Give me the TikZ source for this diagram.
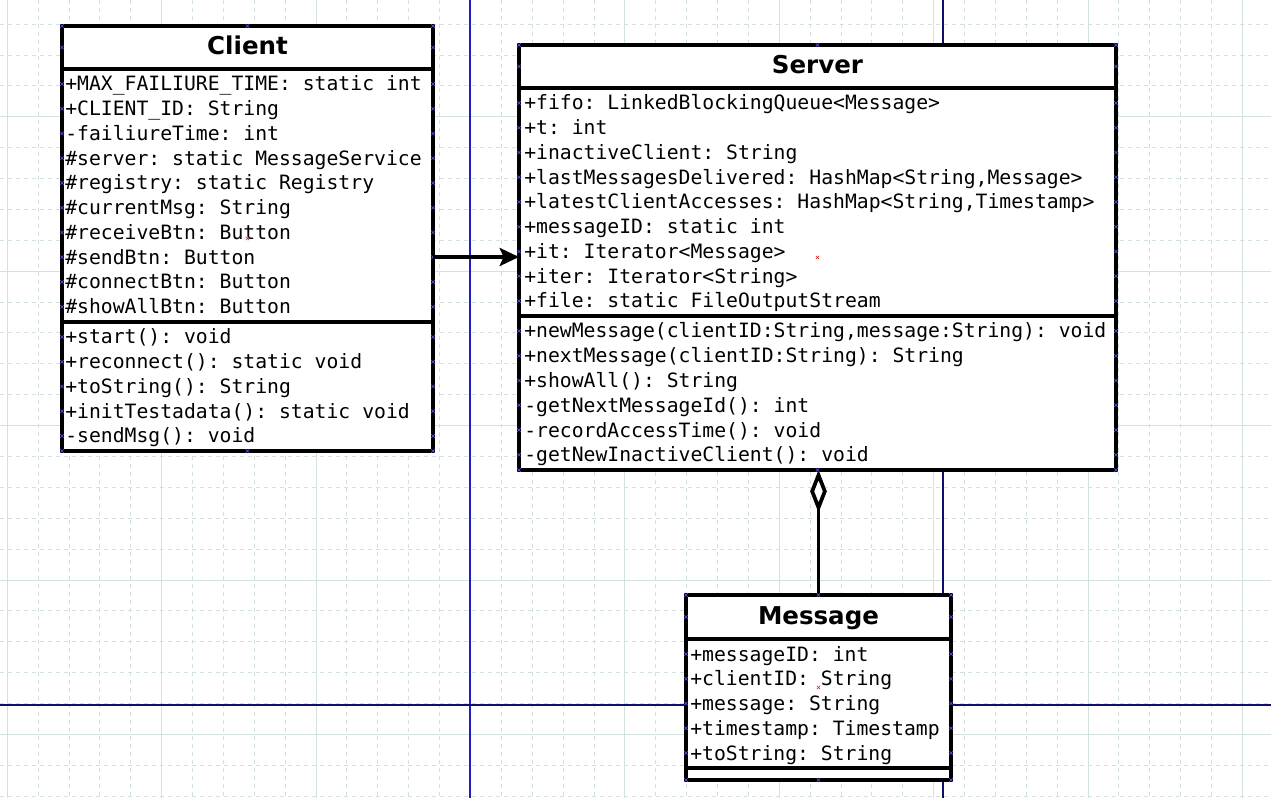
\documentclass[tikz,border=0pt]{standalone}
\usepackage{fontspec}
\setmainfont{DejaVu Sans}
\setsansfont{DejaVu Sans}
\setmonofont{DejaVu Sans Mono}
\usetikzlibrary{arrows.meta}
\definecolor{gridc}{RGB}{210,226,222}
\definecolor{guideA}{RGB}{30,30,200}
\definecolor{guideB}{RGB}{15,15,105}
\definecolor{hdl}{RGB}{90,90,255}
\definecolor{ctr}{RGB}{225,30,30}
\newcommand\hmk[2]{\draw[hmark] ({#1},{#2}) ++(-1.7,-1.7) -- ++(3.4,3.4) ++(-3.4,0) -- ++(3.4,-3.4);}
\newcommand\cmk[2]{\draw[cmark] ({#1},{#2}) ++(-1.7,-1.7) -- ++(3.4,3.4) ++(-3.4,0) -- ++(3.4,-3.4);}
\begin{document}
\begin{tikzpicture}[x=0.75pt,y=-0.75pt,
  boxst/.style={draw,line width=2.6pt,fill=white,inner sep=0pt,outer sep=0pt,anchor=north west},
  attr/.style={font=\fontsize{14.8}{17}\selectfont\ttfamily,inner sep=0pt,anchor=base west},
  ttl/.style={font=\fontsize{18.4}{22}\selectfont\sffamily\bfseries,inner sep=0pt,anchor=base},
  divl/.style={line width=2.6pt},
  conn/.style={line width=2.8pt},
  minorg/.style={gridc,line width=0.75pt,dash pattern=on 3pt off 3pt},
  majorg/.style={gridc,line width=0.75pt},
  hmark/.style={hdl,line width=0.45pt},
  cmark/.style={ctr,line width=0.45pt},
]
\fill[white] (0,0) rectangle (1271,798);
\useasboundingbox (0,0) rectangle (1271,798);
% grid
\foreach \k in {0,...,41} \draw[minorg] ({7.3+30.88*\k},0) -- ++(0,798);
\foreach \k in {0,...,25} \draw[minorg] (0,{24.16+30.88*\k}) -- ++(1271,0);
\foreach \k in {0,...,8} \draw[majorg] ({7.3+154.4*\k},0) -- ++(0,798);
\foreach \k in {0,...,4} \draw[majorg] (0,{116.8+154.4*\k}) -- ++(1271,0);
% guide lines
\draw[guideA,line width=0.9pt] (470,0) -- (470,798);
\draw[guideB,line width=0.9pt] (943,0) -- (943,798);
\draw[guideB,line width=0.9pt] (0,705) -- (1271,705);
% boxes
\node[boxst,minimum width=278.25pt,minimum height=318.75pt] (client) at (62,26) {};
\node[boxst,minimum width=447.75pt,minimum height=318.75pt] (server) at (519,45) {};
\node[boxst,minimum width=198.75pt,minimum height=138.75pt] (message) at (686,595) {};
\draw[divl] (62,69) -- (433,69);
\draw[divl] (62,322) -- (433,322);
\draw[divl] (519,88) -- (1116,88);
\draw[divl] (519,316) -- (1116,316);
\draw[divl] (686,639) -- (951,639);
\draw[divl] (686,768) -- (951,768);
% titles
\node[ttl] (clientT) at (247.5,55) {Client};
\node[ttl] (serverT) at (817.5,74) {Server};
\node[ttl] (messageT) at (818.5,624) {Message};
% client
\foreach \t [count=\i] in {+MAX\_FAILIURE\_TIME: static int,+CLIENT\_ID: String,-failiureTime: int,\#server: static MessageService,\#registry: static Registry,\#currentMsg: String,\#receiveBtn: Button,\#sendBtn: Button,\#connectBtn: Button,\#showAllBtn: Button}{
  \node[attr] (ca\i) at (65,{91+24.75*(\i-1)}) {\t};
  \hmk{62}{84+24.75*(\i-1)}\hmk{433}{84+24.75*(\i-1)}}
\foreach \t [count=\i] in {+start(): void,+reconnect(): static void,+toString(): String,+initTestadata(): static void,-sendMsg(): void}{
  \node[attr] (cm\i) at (65,{344+24.75*(\i-1)}) {\t};
  \hmk{62}{337+24.75*(\i-1)}\hmk{433}{337+24.75*(\i-1)}}
% server
\foreach \t [count=\i] in {+fifo: LinkedBlockingQueue<Message>,+t: int,+inactiveClient: String,{+lastMessagesDelivered: HashMap<String,Message>},{+latestClientAccesses: HashMap<String,Timestamp>},+messageID: static int,+it: Iterator<Message>,+iter: Iterator<String>,+file: static FileOutputStream}{
  \node[attr] (sa\i) at (524,{110+24.75*(\i-1)}) {\t};
  \hmk{519}{103+24.75*(\i-1)}\hmk{1116}{103+24.75*(\i-1)}}
\foreach \t [count=\i] in {{+newMessage(clientID:String,message:String): void},+nextMessage(clientID:String): String,+showAll(): String,-getNextMessageId(): int,-recordAccessTime(): void,-getNewInactiveClient(): void}{
  \node[attr] (sm\i) at (524,{338+24.75*(\i-1)}) {\t};
  \hmk{519}{331+24.75*(\i-1)}\hmk{1116}{331+24.75*(\i-1)}}
% message
\foreach \t [count=\i] in {+messageID: int,+clientID: String,+message: String,+timestamp: Timestamp,+toString: String}{
  \node[attr] (ma\i) at (690,{661+24.75*(\i-1)}) {\t};
  \hmk{686}{654+24.75*(\i-1)}\hmk{951}{654+24.75*(\i-1)}}
% connectors
\coordinate (ay) at (0,257);
\draw[conn,-{Stealth[length=14.5pt,width=13.5pt,inset=3pt]}] (client.east |- ay) -- (server.west |- ay);
\draw[conn,-{Diamond[fill=white,length=32pt,width=12.5pt]}] (message.north) -- (message.north |- server.south);
% handles
\foreach \x/\y in {62/26,247.5/26,433/26,62/47.5,433/47.5,62/451,247.5/451,433/451,
  519/45,817.5/45,1116/45,519/66.5,1116/66.5,519/470,817.5/470,1116/470,
  686/595,818.5/595,951/595,686/617,951/617,686/780,818.5/780,951/780}{\hmk{\x}{\y}}
\cmk{247.5}{238.5}\cmk{817.5}{257.5}\cmk{818.5}{687.5}
\end{tikzpicture}
\end{document}
